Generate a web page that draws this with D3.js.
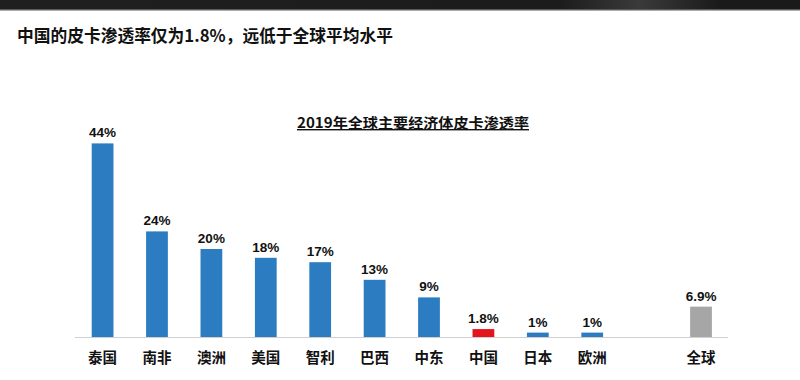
<!DOCTYPE html>
<html><head><meta charset="utf-8">
<script src="https://cdn.jsdelivr.net/npm/d3@7/dist/d3.min.js"></script>
<style>body{margin:0;background:#fff;}svg{display:block;}</style>
</head><body>
<svg id="c" width="800" height="380"></svg>
<script>
const categories = ["泰国","南非","澳洲","美国","智利","巴西","中东","中国","日本","欧洲","","全球"];
const values = [44, 24, 20, 18, 17, 13, 9, 1.8, 1, 1, null, 6.9];
const valueLabels = ["44%","24%","20%","18%","17%","13%","9%","1.8%","1%","1%","","6.9%"];
const pageTitle = "中国的皮卡渗透率仅为1.8%，远低于全球平均水平";
const chartTitle = "2019年全球主要经济体皮卡渗透率";

const svg = d3.select("#c");
const font = "'Noto Sans CJK SC','Liberation Sans',Arial,sans-serif";

// header band
const grad = svg.append("defs").append("linearGradient").attr("id","hb");
grad.append("stop").attr("offset","0").attr("stop-color","#1f1f1f");
grad.append("stop").attr("offset","0.7").attr("stop-color","#1c1c1c");
grad.append("stop").attr("offset","0.8").attr("stop-color","#3a3a3a");
grad.append("stop").attr("offset","0.9").attr("stop-color","#1a1a1a");
grad.append("stop").attr("offset","1").attr("stop-color","#1a1a1a");
svg.append("rect").attr("x",0).attr("y",0).attr("width",800).attr("height",9).attr("fill","url(#hb)");
svg.append("rect").attr("x",0).attr("y",9).attr("width",800).attr("height",1.5).attr("fill","#5a5a5a");

svg.append("text").attr("x",17).attr("y",42).attr("font-family",font).attr("font-weight","bold")
  .attr("font-size",17.5).attr("fill","#111")
  .attr("textLength",376).attr("lengthAdjust","spacingAndGlyphs").text(pageTitle);

svg.append("text").attr("x",297).attr("y",128)
  .attr("font-family",font).attr("font-weight","bold").attr("font-size",14).attr("fill","#111")
  .attr("text-decoration","underline")
  .attr("textLength",232).attr("lengthAdjust","spacingAndGlyphs").text(chartTitle);

const x = d3.scaleBand().domain(d3.range(categories.length)).range([75, 728.6])
  .paddingInner(0.6).paddingOuter(0.307);
const y = d3.scaleLinear().domain([0, 50]).range([337, 117]);

const colors = (c) => c === "中国" ? "#e3141d" : (c === "全球" ? "#a6a6a6" : "#2b7cc1");

const idx = d3.range(categories.length).filter(i => values[i] !== null);

svg.append("g").selectAll("rect").data(idx).join("rect")
  .attr("x", i => x(i)).attr("width", x.bandwidth())
  .attr("y", i => y(values[i])).attr("height", i => y(0) - y(values[i]))
  .attr("fill", i => colors(categories[i]));

svg.append("line").attr("x1",75).attr("x2",728).attr("y1",y(0)+0.5).attr("y2",y(0)+0.5)
  .attr("stroke","#d0d0d0").attr("stroke-width",1);

svg.append("g").selectAll("text").data(idx).join("text")
  .attr("x", i => x(i) + x.bandwidth()/2).attr("y", i => y(values[i]) - 6)
  .attr("text-anchor","middle").attr("font-family","'Liberation Sans',Arial,sans-serif")
  .attr("font-weight","bold").attr("font-size",13.5).attr("fill","#111")
  .text(i => valueLabels[i]);

const axis = d3.axisBottom(x).tickSize(0).tickFormat(i => categories[i]);
const ga = svg.append("g").attr("transform", `translate(0,${y(0)})`).call(axis);
ga.select(".domain").remove();
ga.selectAll("text").attr("font-family",font).attr("font-weight","bold").attr("font-size",14.5)
  .attr("fill","#111").attr("dy",0).attr("y",26);
</script>
</body></html>
